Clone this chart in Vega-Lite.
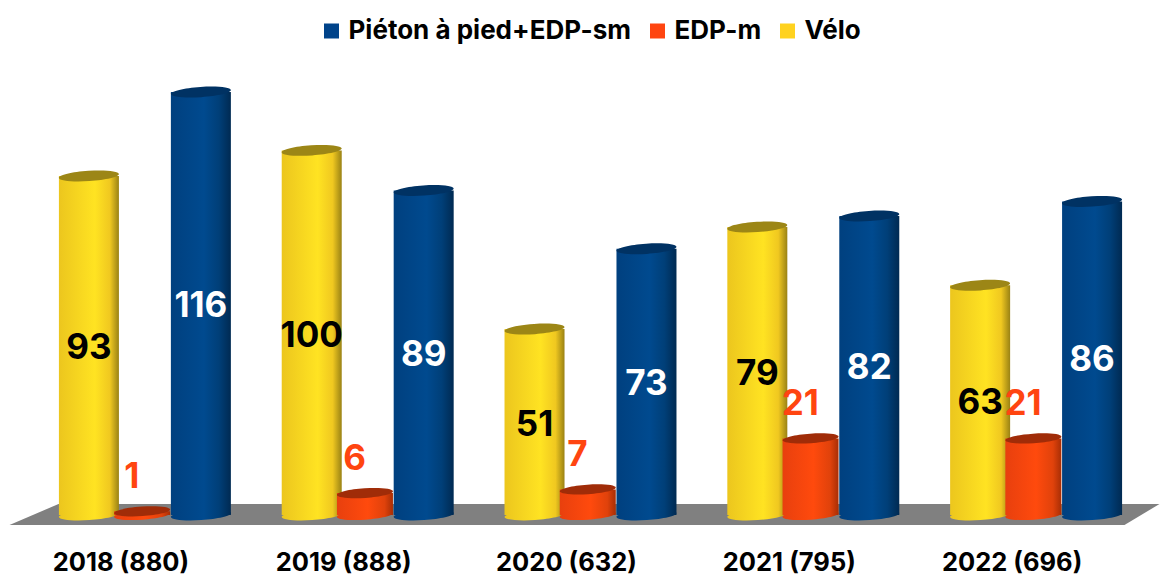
{"$schema":"https://vega.github.io/schema/vega-lite/v6.json","width":1114,"height":474,"autosize":"none","padding":{"left":33.5,"top":41,"right":13.5,"bottom":60},"background":"white","config":{"view":{"stroke":null},"font":"Inter"},
"datasets":{"d":[
{"year":"2018 (880)","series":"Vélo","value":93},{"year":"2018 (880)","series":"EDP-m","value":1},{"year":"2018 (880)","series":"Piéton à pied+EDP-sm","value":116},
{"year":"2019 (888)","series":"Vélo","value":100},{"year":"2019 (888)","series":"EDP-m","value":6},{"year":"2019 (888)","series":"Piéton à pied+EDP-sm","value":89},
{"year":"2020 (632)","series":"Vélo","value":51},{"year":"2020 (632)","series":"EDP-m","value":7},{"year":"2020 (632)","series":"Piéton à pied+EDP-sm","value":73},
{"year":"2021 (795)","series":"Vélo","value":79},{"year":"2021 (795)","series":"EDP-m","value":21},{"year":"2021 (795)","series":"Piéton à pied+EDP-sm","value":82},
{"year":"2022 (696)","series":"Vélo","value":63},{"year":"2022 (696)","series":"EDP-m","value":21},{"year":"2022 (696)","series":"Piéton à pied+EDP-sm","value":86}],
"g":[{"year":"2020 (632)","series":"EDP-m","value":0}]},
"data":{"name":"d"},
"resolve":{"scale":{"y":"independent","xOffset":"independent"}},
"encoding":{
"x":{"field":"year","type":"nominal","title":null,"scale":{"paddingInner":0,"paddingOuter":0},"axis":{"labelOffset":-24,"labelAngle":0,"ticks":false,"domain":false,"labelPadding":35,"labelFontSize":25.5,"labelFontWeight":700,"labelColor":"#000","labelFont":"Inter"}},
"y":{"field":"value","type":"quantitative","title":null,"scale":{"domain":[0,130],"nice":false},"axis":null},
"xOffset":{"field":"series","scale":{"type":"band","domain":["Vélo","EDP-m","Piéton à pied+EDP-sm"],"paddingInner":0,"paddingOuter":0.49}}},
"layer":[
{"data":{"name":"g"},"mark":{"type":"point","filled":true,"opacity":1,"size":1000000,"color":"#808080","shape":"M-1.162,.02 L1.068,.02 L1.138,-.022 L-1.064,-.022 Z"}},
{"transform":[{"filter":"datum.series==='Vélo'"}],"layer":[
{"mark":{"type":"point","filled":true,"opacity":1,"size":3600,"color":{"gradient":"linear","x1":0,"x2":1,"y1":0,"y2":0,"stops":[{"offset":0,"color":"#ecc61e"},{"offset":0.6,"color":"#ffe322"},{"offset":0.85,"color":"#f0c820"},{"offset":1,"color":"#9a8214"}]},"shape":"M-1,.067 A1,.17 -3.8 1 0 1,-.067 A1,.17 -3.8 1 0 -1,.067 Z"},"encoding":{"y":{"datum":0}}},
{"mark":{"type":"bar","width":60,"color":{"gradient":"linear","x1":0,"x2":1,"y1":0,"y2":0,"stops":[{"offset":0,"color":"#ecc61e"},{"offset":0.6,"color":"#ffe322"},{"offset":0.85,"color":"#f0c820"},{"offset":1,"color":"#9a8214"}]}}},
{"mark":{"type":"point","filled":true,"opacity":1,"size":3600,"color":"#9c8616","shape":"M-1,.067 A1,.17 -3.8 1 0 1,-.067 A1,.17 -3.8 1 0 -1,.067 Z"}}]},
{"transform":[{"filter":"datum.series==='EDP-m'"}],"encoding":{"xOffset":{"field":"series","scale":{"type":"band","domain":["Vélo","EDP-m","Piéton à pied+EDP-sm"],"paddingInner":0,"paddingOuter":0.49,"align":0.45}}},"layer":[
{"mark":{"type":"point","filled":true,"opacity":1,"size":3136,"color":{"gradient":"linear","x1":0,"x2":1,"y1":0,"y2":0,"stops":[{"offset":0,"color":"#e8400e"},{"offset":0.55,"color":"#ff4a0d"},{"offset":0.85,"color":"#e0420b"},{"offset":1,"color":"#a82e05"}]},"shape":"M-1,.067 A1,.17 -3.8 1 0 1,-.067 A1,.17 -3.8 1 0 -1,.067 Z"},"encoding":{"y":{"datum":0}}},
{"mark":{"type":"bar","width":56,"color":{"gradient":"linear","x1":0,"x2":1,"y1":0,"y2":0,"stops":[{"offset":0,"color":"#e8400e"},{"offset":0.55,"color":"#ff4a0d"},{"offset":0.85,"color":"#e0420b"},{"offset":1,"color":"#a82e05"}]}}},
{"mark":{"type":"point","filled":true,"opacity":1,"size":3136,"color":"#a02c08","shape":"M-1,.067 A1,.17 -3.8 1 0 1,-.067 A1,.17 -3.8 1 0 -1,.067 Z"}}]},
{"transform":[{"filter":"datum.series==='Piéton à pied+EDP-sm'"}],"layer":[
{"mark":{"type":"point","filled":true,"opacity":1,"size":3600,"color":{"gradient":"linear","x1":0,"x2":1,"y1":0,"y2":0,"stops":[{"offset":0,"color":"#00407f"},{"offset":0.55,"color":"#004a8f"},{"offset":0.8,"color":"#003f78"},{"offset":1,"color":"#002a52"}]},"shape":"M-1,.067 A1,.17 -3.8 1 0 1,-.067 A1,.17 -3.8 1 0 -1,.067 Z"},"encoding":{"y":{"datum":0}}},
{"mark":{"type":"bar","width":60,"color":{"gradient":"linear","x1":0,"x2":1,"y1":0,"y2":0,"stops":[{"offset":0,"color":"#00407f"},{"offset":0.55,"color":"#004a8f"},{"offset":0.8,"color":"#003f78"},{"offset":1,"color":"#002a52"}]}}},
{"mark":{"type":"point","filled":true,"opacity":1,"size":3600,"color":"#003263","shape":"M-1,.067 A1,.17 -3.8 1 0 1,-.067 A1,.17 -3.8 1 0 -1,.067 Z"}}]},
{"transform":[{"filter":"datum.series==='Vélo'"}],"mark":{"type":"text","font":"Inter","fontWeight":700,"fontSize":35,"color":"#000","baseline":"middle","dy":3},"encoding":{"y":{"field":"value","type":"quantitative","title":null,"scale":{"domain":[0,260],"nice":false},"axis":null},"text":{"field":"value","type":"quantitative"}}},
{"transform":[{"filter":"datum.series==='EDP-m'"}],"mark":{"type":"text","font":"Inter","fontWeight":700,"fontSize":35,"color":"#ff4510","baseline":"middle","dx":-13,"dy":-34},"encoding":{"text":{"field":"value","type":"quantitative"}}},
{"transform":[{"filter":"datum.series==='Piéton à pied+EDP-sm'"}],"mark":{"type":"text","font":"Inter","fontWeight":700,"fontSize":35,"color":"#fff","baseline":"middle","dy":2},"encoding":{"y":{"field":"value","type":"quantitative","title":null,"scale":{"domain":[0,260],"nice":false},"axis":null},"text":{"field":"value","type":"quantitative"}}},
{"mark":{"type":"point","filled":true,"opacity":0},"encoding":{"color":{"field":"series","type":"nominal","scale":{"domain":["Piéton à pied+EDP-sm","EDP-m","Vélo"],"range":["#00438a","#ff4510","#ffd21f"]},"legend":{"title":null,"orient":"none","legendX":285,"legendY":-23,"direction":"horizontal","symbolType":"square","symbolSize":225,"symbolOpacity":1,"labelFontSize":26,"labelFontWeight":700,"labelColor":"#000","labelFont":"Inter","labelLimit":400,"columnPadding":13,"symbolStrokeWidth":0}}}}
]}
